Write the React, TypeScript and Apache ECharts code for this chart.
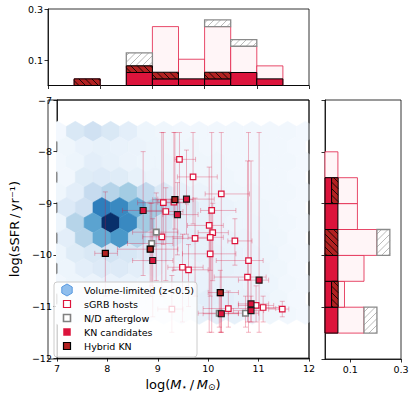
import React, { useEffect, useRef } from "react";
import * as echarts from "echarts";

// ---------- histogram data (fractions of 39 hosts) ----------
const massEdges = [7, 7.5, 8, 8.5, 9, 9.5, 10, 10.5, 11, 11.5, 12];
const massAll = [0, 0.026, 0, 0.077, 0.231, 0.103, 0.231, 0.154, 0.077, 0];
const massND = [0, 0, 0, 0.051, 0, 0, 0.026, 0.026, 0, 0];
const massKN = [0, 0, 0, 0.051, 0.026, 0.026, 0.026, 0.051, 0.026, 0];
const massHyb = [0, 0.026, 0, 0.026, 0.026, 0, 0.026, 0, 0, 0];

const sfrEdges = [-11.5, -11, -10.5, -10, -9.5, -9, -8.5, -8];
const sfrAll = [0.154, 0.077, 0.154, 0.205, 0.128, 0.128, 0.051];
const sfrND = [0.051, 0, 0, 0.051, 0, 0, 0];
const sfrKN = [0.051, 0.026, 0.051, 0, 0.051, 0.026, 0];
const sfrHyb = [0, 0.026, 0, 0.051, 0, 0.026, 0];

// ---------- scatter data ----------
const sgrbX = [9.43, 9.70, 10.26, 9.11, 9.32, 9.16, 10.07, 10.02, 10.09, 10.04, 9.74, 10.53, 9.08, 10.04, 10.80, 9.49, 9.61, 10.78, 10.95, 10.40, 11.09, 11.47, 9.28];
const sgrbY = [-8.15, -8.49, -8.82, -8.99, -8.98, -9.16, -9.14, -9.43, -9.57, -9.66, -9.68, -9.73, -9.65, -9.98, -10.11, -10.24, -10.29, -10.43, -10.98, -11.04, -11.02, -11.05, -11.05];
const sgrbXLo = [9.34, 9.39, 9.94, 8.6, 9.0, 8.75, 9.85, 9.59, 9.8, 9.6, 9.3, 10.39, 8.7, 9.49, 10.16, 9.2, 9.3, 10.12, 10.6, 9.9, 10.8, 11.2, 9.0];
const sgrbXHi = [9.75, 10.18, 10.82, 9.6, 9.55, 9.5, 10.55, 10.3, 10.4, 10.3, 10.0, 10.87, 9.5, 10.55, 11.09, 9.9, 10.0, 11.15, 11.3, 11.34, 11.4, 11.6, 9.5];
const sgrbYLo = [-9.2, -9.4, -11.5, -9.8, -10.3, -10.5, -11.5, -11.5, -10.5, -10.3, -10.8, -10.2, -10.8, -10.8, -11.5, -11.3, -11.0, -11.3, -11.3, -11.4, -11.3, -11.2, -11.5];
const sgrbYHi = [-7.63, -7.63, -7.63, -7.63, -7.63, -8.7, -7.63, -8.3, -9.0, -9.2, -8.9, -9.3, -7.63, -9.6, -7.63, -9.6, -9.8, -8.18, -10.6, -10.7, -10.8, -10.9, -10.4];

const ndX = [8.97, 8.88, 10.74, 10.22];
const ndY = [-9.56, -9.78, -11.13, -11.13];
const ndXLo = [8.5, 8.4, 10.4, 9.8];
const ndXHi = [9.4, 9.3, 11.0, 10.6];
const ndYLo = [-10.5, -10.6, -11.4, -11.4];
const ndYHi = [-8.8, -9.0, -10.8, -10.8];

const knX = [8.71, 9.39, 9.57, 8.90, 11.01, 10.85, 10.85, 10.26];
const knY = [-9.14, -9.22, -8.92, -10.11, -10.49, -10.95, -11.08, -11.14];
const knXLo = [8.3, 9.1, 9.0, 8.5, 10.6, 10.6, 10.5, 9.9];
const knXHi = [9.1, 9.8, 10.12, 9.3, 11.2, 11.2, 11.1, 10.6];
const knYLo = [-10.4, -10.0, -9.6, -11.2, -11.5, -11.3, -11.3, -11.5];
const knYHi = [-8.0, -8.6, -7.97, -9.3, -7.63, -8.18, -10.8, -10.8];

const hybX = [7.96, 8.85, 9.34, 10.24];
const hybY = [-9.97, -9.89, -8.93, -10.73];
const hybXLo = [7.75, 8.2, 8.9, 10.0];
const hybXHi = [8.2, 9.4, 9.7, 10.6];
const hybYLo = [-10.8, -10.8, -9.5, -11.5];
const hybYHi = [-8.78, -9.0, -7.63, -10.3];

// ---------- hexbin background (Blues level per cell, rows top->bottom) ----------
const HEX_X0 = 7.013;
const HEX_DX = 0.351;
const HEX_Y0 = -7.61;
const HEX_DY = 0.295;
const hexRows = [
  [0.02, 0.15, 0.2, 0.15, 0.1, 0.05, 0.04, 0.03, 0.03, 0.03, 0.03, 0.03, 0.03, 0.03, 0.02],
  [0.04, 0.07, 0.08, 0.07, 0.06, 0.05, 0.04, 0.04, 0.03, 0.03, 0.03, 0.03, 0.03, 0.02],
  [0.03, 0.05, 0.1, 0.08, 0.06, 0.05, 0.05, 0.04, 0.04, 0.04, 0.03, 0.03, 0.03, 0.03, 0.02],
  [0.03, 0.12, 0.13, 0.12, 0.08, 0.06, 0.05, 0.04, 0.04, 0.04, 0.03, 0.03, 0.03, 0.02],
  [0.04, 0.1, 0.25, 0.3, 0.36, 0.26, 0.14, 0.08, 0.06, 0.05, 0.04, 0.04, 0.03, 0.03, 0.02],
  [0.13, 0.2, 0.7, 0.66, 0.5, 0.36, 0.25, 0.12, 0.08, 0.06, 0.05, 0.04, 0.03, 0.02],
  [0.05, 0.3, 0.55, 1.0, 0.66, 0.36, 0.18, 0.1, 0.08, 0.06, 0.05, 0.05, 0.04, 0.03, 0.02],
  [0.1, 0.3, 0.52, 0.6, 0.3, 0.2, 0.15, 0.1, 0.08, 0.07, 0.06, 0.05, 0.04, 0.02],
  [0.05, 0.12, 0.15, 0.18, 0.16, 0.13, 0.1, 0.08, 0.08, 0.08, 0.07, 0.06, 0.05, 0.03, 0.02],
  [0.05, 0.1, 0.13, 0.13, 0.1, 0.08, 0.06, 0.06, 0.07, 0.08, 0.07, 0.06, 0.04, 0.02],
  [0.03, 0.05, 0.06, 0.07, 0.07, 0.06, 0.06, 0.06, 0.07, 0.08, 0.07, 0.06, 0.05, 0.03, 0.02],
  [0.03, 0.04, 0.05, 0.05, 0.05, 0.05, 0.06, 0.08, 0.1, 0.1, 0.08, 0.06, 0.04, 0.02],
  [0.02, 0.03, 0.04, 0.04, 0.04, 0.04, 0.05, 0.06, 0.08, 0.09, 0.08, 0.06, 0.04, 0.03, 0.02],
];

const BLUES = ["#f7fbff", "#deebf7", "#c6dbef", "#9ecae1", "#6baed6", "#4292c6", "#2171b5", "#08519c", "#08306b"];
function hexToRgb(h: string) {
  return [parseInt(h.slice(1, 3), 16), parseInt(h.slice(3, 5), 16), parseInt(h.slice(5, 7), 16)];
}
function blues(v: number) {
  const t = Math.max(0, Math.min(1, v)) * 8;
  const i = Math.min(7, Math.floor(t));
  const f = t - i;
  const a = hexToRgb(BLUES[i]);
  const b = hexToRgb(BLUES[i + 1]);
  const c = a.map((x, k) => Math.round(x + (b[k] - x) * f));
  return `rgb(${c[0]},${c[1]},${c[2]})`;
}

const hexData: number[][] = [];
hexRows.forEach((row, j) => {
  const off = j % 2 ? HEX_DX / 2 : 0;
  row.forEach((v, k) => {
    hexData.push([HEX_X0 + off + k * HEX_DX, HEX_Y0 - j * HEX_DY, v]);
  });
});

function histItems(edges: number[], all: number[], nd: number[], kn: number[], hyb: number[]) {
  const out: number[][] = [];
  for (let i = 0; i < all.length; i++) if (all[i] > 0) out.push([edges[i], edges[i + 1], 0, all[i], 0]);
  for (let i = 0; i < all.length; i++) if (nd[i] > 0) out.push([edges[i], edges[i + 1], all[i], all[i] + nd[i], 1]);
  for (let i = 0; i < all.length; i++) if (kn[i] > 0) out.push([edges[i], edges[i + 1], 0, kn[i], 2]);
  for (let i = 0; i < all.length; i++) if (hyb[i] > 0) out.push([edges[i], edges[i + 1], kn[i], kn[i] + hyb[i], 3]);
  return out;
}

function zipErr(x: number[], y: number[], xl: number[], xh: number[], yl: number[], yh: number[]) {
  return x.map((v, i) => [v, y[i], xl[i], xh[i], yl[i], yh[i]]);
}

const HIST_STYLE = [
  { fill: "#fff5f7", stroke: "rgba(225,30,70,0.8)", lw: 1, hatch: "", hc: "" },
  { fill: "#ffffff", stroke: "#8a8a8a", lw: 1.3, hatch: "/", hc: "#a8a8a8" },
  { fill: "#dc143c", stroke: "#000000", lw: 1, hatch: "", hc: "" },
  { fill: "#b22222", stroke: "#000000", lw: 1, hatch: "\\", hc: "#000000" },
];

function hatchLines(x0: number, y0: number, x1: number, y1: number, dir: string, sp: number, color: string) {
  const out: any[] = [];
  if (dir === "/") {
    const cs = Math.ceil((x0 + y0) / sp) * sp;
    for (let c = cs; c <= x1 + y1; c += sp) {
      const lo = Math.max(x0, c - y1);
      const hi = Math.min(x1, c - y0);
      if (hi > lo) out.push({ type: "line", shape: { x1: lo, y1: c - lo, x2: hi, y2: c - hi }, style: { stroke: color, lineWidth: 0.8 } });
    }
  } else {
    const cs = Math.ceil((x0 - y1) / sp) * sp;
    for (let c = cs; c <= x1 - y0; c += sp) {
      const lo = Math.max(x0, y0 + c);
      const hi = Math.min(x1, y1 + c);
      if (hi > lo) out.push({ type: "line", shape: { x1: lo, y1: lo - c, x2: hi, y2: hi - c }, style: { stroke: color, lineWidth: 0.8 } });
    }
  }
  return out;
}

function histRender(horiz: boolean) {
  return (params: any, api: any) => {
    const lo = api.value(0), hi = api.value(1), base = api.value(2), top = api.value(3);
    const kind = api.value(4);
    let p0, p1;
    if (!horiz) {
      p0 = api.coord([lo, base]);
      p1 = api.coord([hi, top]);
    } else {
      p0 = api.coord([base, lo]);
      p1 = api.coord([top, hi]);
    }
    const x0 = Math.min(p0[0], p1[0]), x1 = Math.max(p0[0], p1[0]);
    const y0 = Math.min(p0[1], p1[1]), y1 = Math.max(p0[1], p1[1]);
    const st = HIST_STYLE[kind];
    const children: any[] = [
      { type: "rect", shape: { x: x0, y: y0, width: x1 - x0, height: y1 - y0 }, style: { fill: st.fill } },
    ];
    if (st.hatch) children.push(...hatchLines(x0, y0, x1, y1, st.hatch, 6.5, st.hc));
    children.push({ type: "rect", shape: { x: x0, y: y0, width: x1 - x0, height: y1 - y0 }, style: { fill: "none", stroke: st.stroke, lineWidth: st.lw } });
    return { type: "group", children };
  };
}

function errRender(params: any, api: any) {
  const c = api.coord([api.value(0), api.value(1)]);
  const xl = api.coord([api.value(2), api.value(1)]);
  const xh = api.coord([api.value(3), api.value(1)]);
  const yl = api.coord([api.value(0), api.value(4)]);
  const yh = api.coord([api.value(0), api.value(5)]);
  const cap = 2.5;
  const s = { stroke: "rgba(220,20,60,0.3)", lineWidth: 1 };
  return {
    type: "group",
    children: [
      { type: "line", shape: { x1: xl[0], y1: c[1], x2: xh[0], y2: c[1] }, style: s },
      { type: "line", shape: { x1: xl[0], y1: c[1] - cap, x2: xl[0], y2: c[1] + cap }, style: s },
      { type: "line", shape: { x1: xh[0], y1: c[1] - cap, x2: xh[0], y2: c[1] + cap }, style: s },
      { type: "line", shape: { x1: c[0], y1: yl[1], x2: c[0], y2: yh[1] }, style: s },
      { type: "line", shape: { x1: c[0] - cap, y1: yl[1], x2: c[0] + cap, y2: yl[1] }, style: s },
      { type: "line", shape: { x1: c[0] - cap, y1: yh[1], x2: c[0] + cap, y2: yh[1] }, style: s },
    ],
  };
}

function hexRender(params: any, api: any) {
  const c = api.coord([api.value(0), api.value(1)]);
  const s = api.size([HEX_DX, 2 * HEX_DY]);
  const w = s[0], h = s[1] / 3;
  const pts = [[0.5, -0.5], [0.5, 0.5], [0, 1], [-0.5, 0.5], [-0.5, -0.5], [0, -1]].map(([a, b]) => [c[0] + a * w, c[1] + b * h]);
  const col = blues(api.value(2));
  return { type: "polygon", shape: { points: pts }, style: { fill: col, stroke: col, lineWidth: 0.6 } };
}

const FONT = "DejaVu Sans";
const axisLineS = { show: true, onZero: false, lineStyle: { color: "#000", width: 0.8 } };
const tickS = { show: true, length: 3.5, lineStyle: { color: "#000", width: 0.8 } };
const minus = (v: number) => String(v).replace("-", "\u2212");

export default function App() {
  const ref = useRef<HTMLDivElement>(null);
  useEffect(() => {
    const chart = echarts.init(ref.current!, null, { renderer: "svg" });
    const legendY = [290, 304, 318, 332, 346];
    const lx = 67;
    const hexIcon = [[0, -6], [5.2, -3], [5.2, 3], [0, 6], [-5.2, 3], [-5.2, -3]].map(([a, b]) => [lx + a, legendY[0] + b]);
    const sq = (y: number, fill: string, stroke: string, lw: number) => ({
      type: "rect",
      shape: { x: lx - 3.5, y: y - 3.5, width: 7, height: 7 },
      style: { fill, stroke, lineWidth: lw },
    });
    const txt = (y: number, t: string) => ({
      type: "text",
      x: 84,
      y,
      style: { text: t, fontSize: 9.5, fontFamily: FONT, fill: "#000", verticalAlign: "middle" },
    });
    const option: any = {
      animation: false,
      textStyle: { fontFamily: FONT },
      grid: [
        { left: 48, top: 9, width: 261, height: 76.5, show: true, borderColor: "#000", borderWidth: 0.8 },
        { left: 48, top: 100, width: 261, height: 259, show: true, borderColor: "#000", borderWidth: 0.8 },
        { left: 325, top: 100, width: 76, height: 259, show: true, borderColor: "#000", borderWidth: 0.8 },
      ],
      xAxis: [
        { gridIndex: 0, type: "value", min: 7, max: 12, interval: 1, axisLine: axisLineS, axisTick: tickS, axisLabel: { show: false }, splitLine: { show: false } },
        {
          gridIndex: 1, type: "value", min: 7, max: 12, interval: 1, axisLine: axisLineS, axisTick: tickS,
          axisLabel: { fontSize: 9.5, color: "#000", margin: 5, formatter: minus }, splitLine: { show: false },
          name: "{a|log(}{i|M}{s|\u22c6}{a|\u2009/\u2009}{i|M}{s|\u2299}{a|)}",
          nameLocation: "middle", nameGap: 15,
          nameTextStyle: {
            rich: {
              a: { fontSize: 13, color: "#000", fontFamily: FONT },
              i: { fontSize: 13, color: "#000", fontStyle: "italic", fontFamily: FONT },
              s: { fontSize: 9, color: "#000", verticalAlign: "bottom", fontFamily: FONT },
            },
          },
        },
        {
          gridIndex: 2, type: "value", min: 0, max: 0.3, axisLine: axisLineS,
          axisTick: { ...tickS, customValues: [0.1, 0.3] },
          axisLabel: { fontSize: 9.5, color: "#000", margin: 5, customValues: [0.1, 0.3], formatter: (v: number) => v.toFixed(1) },
          splitLine: { show: false },
        },
      ],
      yAxis: [
        {
          gridIndex: 0, type: "value", min: 0, max: 0.3, axisLine: axisLineS,
          axisTick: { ...tickS, customValues: [0.1, 0.3] },
          axisLabel: { fontSize: 9.5, color: "#000", margin: 5, customValues: [0.1, 0.3], formatter: (v: number) => v.toFixed(1) },
          splitLine: { show: false },
        },
        {
          gridIndex: 1, type: "value", min: -12, max: -7, interval: 1, axisLine: axisLineS, axisTick: tickS,
          axisLabel: { fontSize: 9.5, color: "#000", margin: 5, formatter: minus }, splitLine: { show: false },
          name: "log(sSFR\u2009/\u2009yr\u207b\u00b9)", nameLocation: "middle", nameGap: 31,
          nameTextStyle: { fontSize: 13, color: "#000", fontFamily: FONT },
        },
        { gridIndex: 2, type: "value", min: -12, max: -7, interval: 1, axisLine: axisLineS, axisTick: tickS, axisLabel: { show: false }, splitLine: { show: false } },
      ],
      series: [
        {
          type: "custom", xAxisIndex: 0, yAxisIndex: 0, renderItem: histRender(false), silent: true,
          encode: { x: [0, 1], y: [2, 3] }, data: histItems(massEdges, massAll, massND, massKN, massHyb),
        },
        {
          type: "custom", xAxisIndex: 2, yAxisIndex: 2, renderItem: histRender(true), silent: true,
          encode: { y: [0, 1], x: [2, 3] }, data: histItems(sfrEdges, sfrAll, sfrND, sfrKN, sfrHyb),
        },
        {
          type: "custom", xAxisIndex: 1, yAxisIndex: 1, renderItem: hexRender, clip: true, silent: true, z: 1,
          encode: { x: 0, y: 1 }, data: hexData,
        },
        {
          type: "custom", xAxisIndex: 1, yAxisIndex: 1, renderItem: errRender, clip: true, silent: true, z: 2,
          encode: { x: [0, 2, 3], y: [1, 4, 5] },
          data: [
            ...zipErr(sgrbX, sgrbY, sgrbXLo, sgrbXHi, sgrbYLo, sgrbYHi),
            ...zipErr(ndX, ndY, ndXLo, ndXHi, ndYLo, ndYHi),
            ...zipErr(knX, knY, knXLo, knXHi, knYLo, knYHi),
            ...zipErr(hybX, hybY, hybXLo, hybXHi, hybYLo, hybYHi),
          ],
        },
        {
          name: "sGRB hosts", type: "scatter", xAxisIndex: 1, yAxisIndex: 1, symbol: "rect", symbolSize: 5.5, z: 3,
          itemStyle: { color: "#ffffff", borderColor: "#dc143c", borderWidth: 1.2, opacity: 1 },
          data: sgrbX.map((v, i) => [v, sgrbY[i]]),
        },
        {
          name: "N/D afterglow", type: "scatter", xAxisIndex: 1, yAxisIndex: 1, symbol: "rect", symbolSize: 5.5, z: 4,
          itemStyle: { color: "#ffffff", borderColor: "#808080", borderWidth: 1.6, opacity: 1 },
          data: ndX.map((v, i) => [v, ndY[i]]),
        },
        {
          name: "KN candidates", type: "scatter", xAxisIndex: 1, yAxisIndex: 1, symbol: "rect", symbolSize: 6, z: 5,
          itemStyle: { color: "#dc143c", borderColor: "#1a1a1a", borderWidth: 1.1, opacity: 1 },
          data: knX.map((v, i) => [v, knY[i]]),
        },
        {
          name: "Hybrid KN", type: "scatter", xAxisIndex: 1, yAxisIndex: 1, symbol: "rect", symbolSize: 6, z: 6,
          itemStyle: { color: "#b22222", borderColor: "#000000", borderWidth: 1.2, opacity: 1 },
          data: hybX.map((v, i) => [v, hybY[i]]),
        },
      ],
      graphic: [
        {
          type: "rect", z: 99,
          shape: { x: 48, y: 100, width: 261, height: 259 },
          style: { fill: "none", stroke: "#000", lineWidth: 0.8 },
        },
        {
          type: "rect", z: 100,
          shape: { x: 54, y: 282, width: 143, height: 75, r: 3 },
          style: { fill: "rgba(255,255,255,0.8)", stroke: "#cccccc", lineWidth: 1 },
        },
        { type: "polygon", z: 101, shape: { points: hexIcon }, style: { fill: "#8fbeed", stroke: "#5a9ae0", lineWidth: 1 } },
        { ...sq(legendY[1], "#ffffff", "#dc143c", 1.2), z: 101 },
        { ...sq(legendY[2], "#ffffff", "#808080", 1.6), z: 101 },
        { ...sq(legendY[3], "#dc143c", "#dc143c", 0.5), z: 101 },
        { ...sq(legendY[4], "#b22222", "#000000", 1.2), z: 101 },
        { ...txt(legendY[0], "Volume-limited (z<0.5)"), z: 101 },
        { ...txt(legendY[1], "sGRB hosts"), z: 101 },
        { ...txt(legendY[2], "N/D afterglow"), z: 101 },
        { ...txt(legendY[3], "KN candidates"), z: 101 },
        { ...txt(legendY[4], "Hybrid KN"), z: 101 },
      ],
    };
    chart.setOption(option);
    return () => chart.dispose();
  }, []);
  return <div ref={ref} style={{ position: "absolute", left: 0, top: 0, width: 415, height: 396 }} />;
}
